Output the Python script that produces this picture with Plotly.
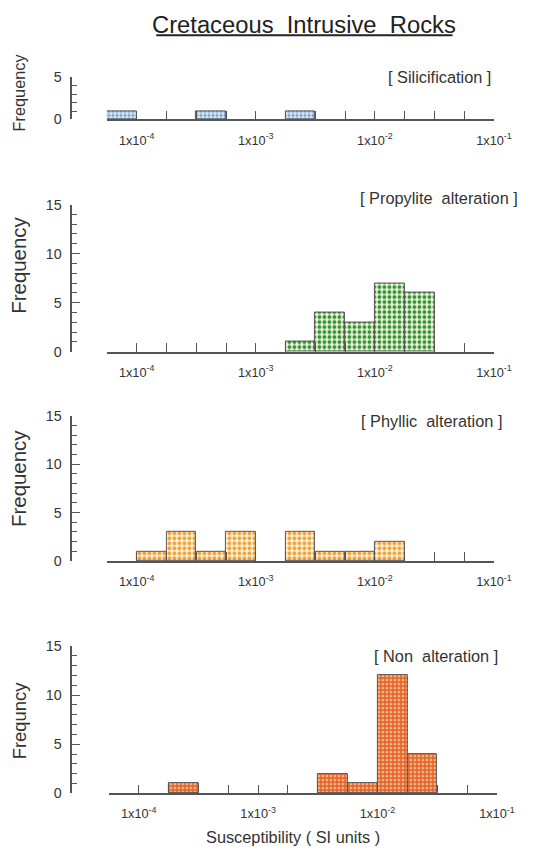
import plotly.graph_objects as go

# The page is photographed with a body margin (8px left, 16px top) and a slight
# downscale (~0.98); layout positions below are given in target-picture pixels.
S = 0.98
OX, OY = 8, 16
W, H = int(round(554 / S - OX)), int(round(851 / S - OY))

# ---------------- data (log10 of susceptibility, SI units) ----------------
bin_width = 0.25  # bin width in decades

silic_bins = [-4.25, -3.5, -2.75]
silic_counts = [1, 1, 1]

propy_bins = [-2.75, -2.5, -2.25, -2.0, -1.75]
propy_counts = [1, 4, 3, 7, 6]

phyll_bins = [-4.0, -3.75, -3.5, -3.25, -2.75, -2.5, -2.25, -2.0]
phyll_counts = [1, 3, 1, 3, 3, 1, 1, 2]

non_bins = [-3.75, -2.5, -2.25, -2.0, -1.75]
non_counts = [1, 2, 1, 12, 4]

panel_labels = ["[ Silicification ]", "[ Propylite\u00a0 alteration ]",
                "[ Phyllic\u00a0 alteration ]", "[ Non\u00a0 alteration ]"]
y_titles = ["Frequency", "Frequency", "Frequency", "Frequncy"]
x_range = [-4.25, -1.0]
decades = [-4, -3, -2, -1]
decade_labels = ["1x10<sup>-4</sup>", "1x10<sup>-3</sup>", "1x10<sup>-2</sup>", "1x10<sup>-1</sup>"]
title_text = "Cretaceous\u00a0 Intrusive\u00a0 Rocks"
x_title = "Susceptibility ( SI units )"

# ---------------- layout helpers (picture pixel -> paper fraction) ----------------
def px_x(p):
    return (p / S - OX) / W

def px_y(p):
    return 1 - (p / S - OY) / H

def fs(size):
    return size / S

FONT = "Liberation Sans, Arial, sans-serif"
AXC = "#555555"
TXT = "#333333"

panels = [
    dict(bins=silic_bins, counts=silic_counts, ymax=5, top=77, bottom=119, xl=108, xr=500,
         bg="#dce8f4", fg="#6f9fd0", size=4, sol=0.45, lab_y=77, lab_r=499, ft_y=92, ft_size=16),
    dict(bins=propy_bins, counts=propy_counts, ymax=15, top=204, bottom=351, xl=108, xr=500,
         bg="#eef7d2", fg="#2f8f3a", size=5, sol=0.45, lab_y=197, lab_r=526, ft_y=265, ft_size=20),
    dict(bins=phyll_bins, counts=phyll_counts, ymax=15, top=415, bottom=560, xl=108, xr=500,
         bg="#fdf1cf", fg="#f0a040", size=5, sol=0.45, lab_y=420, lab_r=510, ft_y=478, ft_size=20),
    dict(bins=non_bins, counts=non_counts, ymax=15, top=645, bottom=792, xl=110, xr=503,
         bg="#e8682e", fg="#f7bf96", size=4, sol=0.3, lab_y=655, lab_r=506, ft_y=720, ft_size=18),
]

fig = go.Figure()

# quarter-decade minor ticks along the whole axis (excluding the labelled decades)
quarter_vals = [x_range[0] + i * bin_width
                for i in range(int(round((x_range[1] - x_range[0]) / bin_width)) + 1)]
minor_vals = [v for v in quarter_vals if abs(v - round(v)) > 1e-9]

annotations = []
for i, p in enumerate(panels):
    n = i + 1
    xa = "x" if n == 1 else f"x{n}"
    ya = "y" if n == 1 else f"y{n}"
    fig.add_trace(go.Bar(
        x=p["bins"], y=p["counts"], width=bin_width, offset=0,
        xaxis=xa, yaxis=ya, showlegend=False,
        marker=dict(color=p["bg"],
                    line=dict(color="#555555", width=1),
                    pattern=dict(shape=".", fgcolor=p["fg"], bgcolor=p["bg"],
                                 size=p["size"], solidity=p["sol"], fillmode="replace")),
    ))
    xdom = [px_x(p["xl"]), px_x(p["xr"])]
    ydom = [px_y(p["bottom"]), px_y(p["top"])]
    xkey = "xaxis" if n == 1 else f"xaxis{n}"
    ykey = "yaxis" if n == 1 else f"yaxis{n}"
    fig.update_layout(**{
        xkey: dict(domain=xdom, range=x_range, anchor=ya, showgrid=False, zeroline=False,
                   showline=True, linecolor=AXC, linewidth=1.5,
                   tickmode="array", tickvals=decades, ticktext=decade_labels,
                   ticks="inside", ticklen=9, tickwidth=1.2, tickcolor=AXC,
                   ticklabelstandoff=8,
                   minor=dict(tickmode="array", tickvals=minor_vals, ticks="inside",
                              ticklen=9, tickwidth=1.2, tickcolor=AXC, showgrid=False),
                   tickfont=dict(family=FONT, size=fs(12.5), color=TXT)),
        ykey: dict(domain=ydom, range=[0, p["ymax"]], anchor="free", position=px_x(72),
                   showgrid=False, zeroline=False, showline=True, linecolor=AXC, linewidth=1.5,
                   tickmode="linear", tick0=0, dtick=5, ticks="inside", ticklen=8,
                   tickwidth=1.2, tickcolor=AXC, ticklabelstandoff=6,
                   minor=dict(dtick=1, tick0=0, ticks="inside", ticklen=5, tickwidth=1.2,
                              tickcolor=AXC, showgrid=False),
                   tickfont=dict(family=FONT, size=fs(14), color=TXT)),
    })
    annotations.append(dict(text=panel_labels[i], xref="paper", yref="paper",
                            x=px_x(p["lab_r"]), y=px_y(p["lab_y"]), xanchor="right", yanchor="middle",
                            showarrow=False, font=dict(family=FONT, size=fs(16), color=TXT)))
    annotations.append(dict(text=y_titles[i], xref="paper", yref="paper", textangle=-90,
                            x=px_x(19), y=px_y(p["ft_y"]), xanchor="center", yanchor="middle",
                            showarrow=False, font=dict(family=FONT, size=fs(p["ft_size"]), color=TXT)))

annotations.append(dict(text=title_text, xref="paper", yref="paper", x=px_x(308), y=px_y(24.5),
                        xanchor="center", yanchor="middle", showarrow=False,
                        font=dict(family=FONT, size=fs(23.3), color="#222222")))
annotations.append(dict(text=x_title, xref="paper", yref="paper", x=px_x(296), y=px_y(836),
                        xanchor="center", yanchor="middle", showarrow=False,
                        font=dict(family=FONT, size=fs(16), color=TXT)))

fig.update_layout(
    width=W, height=H, margin=dict(l=0, r=0, t=0, b=0),
    paper_bgcolor="white", plot_bgcolor="white",
    annotations=annotations, bargap=0,
    shapes=[dict(type="line", xref="paper", yref="paper",
                 x0=px_x(158), x1=px_x(458), y0=px_y(35), y1=px_y(35),
                 line=dict(color="#222222", width=2))],
)

fig.write_html("out.html")
